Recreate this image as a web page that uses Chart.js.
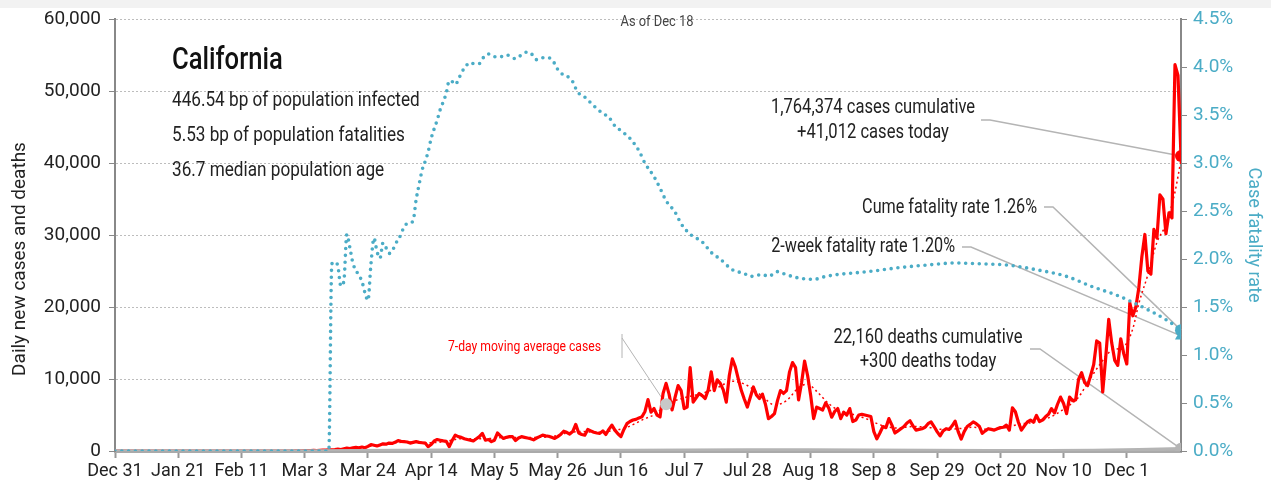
<!DOCTYPE html>
<html>
<head>
<meta charset="utf-8">
<script src="https://cdn.jsdelivr.net/npm/chart.js@4.4.1/dist/chart.umd.min.js"></script>
<style>
  html, body { margin: 0; padding: 0; background: #fff; }
  #wrap { position: absolute; left: 0; top: 0; width: 1271px; height: 493px;
          background: linear-gradient(#f2f2f2 0, #f2f2f2 8px, #fff 8px); }
</style>
</head>
<body>
<div id="wrap"><canvas id="chart" width="1271" height="493"></canvas></div>
<script>
/* ---- data (day 0 = Dec 31) ---- */
const tickDays   = [0, 21, 42, 63, 84, 105, 126, 147, 168, 189, 210, 231, 252, 273, 294, 315, 336];
const tickLabels = ['Dec 31', 'Jan 21', 'Feb 11', 'Mar 3', 'Mar 24', 'Apr 14', 'May 5', 'May 26', 'Jun 16',
                    'Jul 7', 'Jul 28', 'Aug 18', 'Sep 8', 'Sep 29', 'Oct 20', 'Nov 10', 'Dec 1'];

// daily new cases, one value per day
const dailyCases = [
  0,0,0,0,0,0,0,0,0,0, 0,0,0,0,0,0,0,0,0,0, 0,0,0,0,0,0,0,0,0,0,
  0,0,0,0,0,0,0,0,0,0, 0,0,0,0,0,0,0,0,0,0, 0,0,0,0,0,0,0,0,0,0,
  10,20,30,40,50,60,80,70,90,110,
  130,150,170,200,250,200,300,400,350,450,
  500,450,550,450,650,900,800,700,850,1000,
  950,1100,1050,1200,1450,1350,1300,1250,1100,1200,
  1300,1200,1150,1100,600,900,1400,1600,1500,1400,
  1350,600,1500,2200,2000,1900,1700,1600,1500,1400,
  1700,2000,2450,1500,1600,1300,1500,2500,2100,1750,
  1900,2000,2000,1450,1800,2000,1900,1800,1700,1550,
  1800,2000,2200,2100,2050,1900,1750,2000,2300,2750,
  2600,2350,2700,3700,2500,2300,2200,3000,2800,2600,
  2500,2450,2800,2300,3000,3600,2900,2400,2000,3000,
  3800,4100,4300,4400,4600,4750,5500,7150,5400,5900,
  5000,4750,8000,9400,7900,5700,7500,9100,8400,5900,
  6100,11600,6800,7400,8000,7700,7300,8500,11000,8400,
  9900,9400,8500,6800,10500,12800,11700,10000,8400,7200,
  6100,7500,8900,7800,7300,7900,6500,4500,4800,5200,
  7000,8400,8000,8400,11000,12300,11600,7100,9500,12500,
  10500,7800,4500,6100,5900,5700,6700,6000,4700,5500,
  5900,4500,5400,5000,5900,4100,4300,5000,5100,5000,
  4900,4800,2700,1700,2500,3400,3250,4500,3600,2500,
  2800,3100,3400,3900,4200,3500,2900,3000,3100,3300,
  3800,4050,3400,2700,2100,2800,3100,3000,3500,4150,
  2700,1650,2700,3400,3700,4050,3800,3450,2450,2800,
  3100,3000,2900,3100,3250,3300,3600,2900,6000,5450,
  4000,2900,3500,4050,4300,4000,4950,4100,4300,4750,
  5100,5900,5300,6500,7500,6600,5200,7500,7000,7100,
  10000,10900,9500,9100,10500,12000,15300,15000,8200,13000,
  18300,15000,12600,11900,15600,13500,12100,20600,18800,20000,
  22700,27000,30100,25000,24600,30800,29600,35600,35000,30200,
  33100,32400,53700,52200,41000
];

// 7-day moving average of cases
const avgDays   = [0, 70, 75, 80, 85, 90, 95, 100, 105, 110, 115, 120, 125, 130, 135, 140, 145, 150, 155, 160,
                   165, 170, 175, 180, 183, 186, 190, 195, 200, 205, 210, 215, 219, 223, 227, 230, 233, 237, 241, 245,
                   250, 255, 260, 265, 270, 275, 280, 285, 290, 295, 300, 305, 310, 315, 320, 323, 327, 331, 335, 338,
                   340, 343, 346, 349, 352, 354];
const avgCases  = [0, 50, 150, 350, 700, 1000, 1200, 1200, 1150, 1350, 1700, 1700, 1750, 1900, 1850, 1900, 2000, 2500, 2700, 2600,
                   2800, 3300, 4300, 5300, 6500, 7000, 7500, 8000, 8800, 9700, 9100, 7600, 6400, 7000, 8800, 9300, 8300, 6600, 5500, 5100,
                   4400, 3500, 3200, 3400, 3300, 3000, 3100, 3300, 3000, 3200, 3700, 4000, 4600, 5800, 7500, 9500, 12000, 14000, 14500, 17000,
                   20500, 24500, 29000, 31500, 36000, 40500];

// daily deaths (tiny on this scale)
const deathDays   = [0, 65, 80, 95, 110, 130, 150, 170, 190, 210, 230, 250, 270, 290, 310, 325, 340, 354];
const dailyDeaths = [0, 0, 20, 80, 90, 80, 70, 60, 90, 130, 140, 100, 80, 50, 50, 80, 170, 300];

// case fatality rate, %
const cfrDays  = [0, 71, 72, 73, 74, 75, 76, 77, 78, 79, 81, 82, 83, 84, 85, 86, 87, 88, 89, 90,
                  91, 92, 93, 95, 96, 98, 99, 100, 101, 102, 103, 104, 105, 106, 107, 108, 109, 110, 111, 112,
                  113, 114, 115, 116, 118, 119, 121, 122, 124, 126, 128, 130, 131, 133, 135, 137, 139, 140, 142, 144,
                  146, 147, 149, 150, 152, 153, 154, 156, 158, 160, 162, 164, 166, 168, 171, 174, 176, 179, 181, 183,
                  186, 188, 191, 195, 198, 201, 205, 209, 211, 215, 217, 220, 222, 226, 232, 236, 240, 250, 260, 270,
                  279, 289, 296, 306, 316, 324, 333, 338, 345, 350, 354];
const cfrRates = [0, 0, 1.95, 1.97, 1.93, 1.72, 1.77, 2.26, 2.12, 1.96, 1.83, 1.77, 1.65, 1.57, 1.95, 2.22, 2.08, 2.01, 2.17, 2.12,
                  2.06, 2.08, 2.15, 2.26, 2.34, 2.38, 2.40, 2.62, 2.78, 2.93, 3.02, 3.12, 3.26, 3.36, 3.45, 3.56, 3.64, 3.73, 3.86, 3.85,
                  3.82, 3.87, 3.94, 3.99, 4.05, 4.04, 4.04, 4.09, 4.14, 4.11, 4.11, 4.13, 4.12, 4.09, 4.13, 4.16, 4.12, 4.08, 4.10, 4.10,
                  4.04, 3.98, 3.92, 3.91, 3.85, 3.78, 3.73, 3.69, 3.63, 3.57, 3.52, 3.48, 3.39, 3.34, 3.26, 3.13, 3.00, 2.86, 2.74, 2.61,
                  2.49, 2.37, 2.26, 2.18, 2.07, 2.00, 1.89, 1.85, 1.82, 1.84, 1.82, 1.87, 1.85, 1.81, 1.79, 1.82, 1.84, 1.87, 1.91, 1.94,
                  1.96, 1.95, 1.94, 1.89, 1.82, 1.72, 1.62, 1.55, 1.44, 1.35, 1.26];
const twoWeekRate = 1.20;

const infoLines = ['446.54 bp of population infected', '5.53 bp of population fatalities', '36.7 median population age'];

/* ---- styling ---- */
const FONT = "Roboto, 'Liberation Sans', sans-serif";
const RED  = '#ff0000';
const BLUE = '#4bacc6';
const GREY = '#b4b4b4';
const INK  = '#222';
Chart.defaults.font.family = FONT;

const lastDay = dailyCases.length - 1;
const xy = (xs, ys) => ys.map((v, i) => ({ x: xs[i], y: v }));
const onLast = (r) => (c) => c.dataIndex === c.dataset.data.length - 1 ? r : 0;

/** text squeezed horizontally by k, to look like the condensed face of the original */
function put(ctx, str, x, y, size, color, align, k, rot, weight) {
  ctx.save();
  ctx.translate(x, y);
  if (rot) ctx.rotate(rot);
  ctx.scale(k || 1, 1);
  ctx.font = (weight || 400) + ' ' + size + 'px ' + FONT;
  ctx.fillStyle = color;
  ctx.textAlign = align;
  ctx.textBaseline = 'middle';
  ctx.fillText(str, 0, 0);
  ctx.restore();
}

function leader(ctx, pts, w) {
  ctx.beginPath();
  ctx.moveTo(pts[0][0], pts[0][1]);
  pts.slice(1).forEach(p => ctx.lineTo(p[0], p[1]));
  ctx.lineWidth = w || 1.5;
  ctx.strokeStyle = GREY;
  ctx.stroke();
}

/** leader lines under the marks, labels on top */
const notes = {
  id: 'notes',
  beforeDatasetsDraw(chart) {
    const { ctx, scales: { x, y, y1 } } = chart;
    const ex = x.getPixelForValue(lastDay);
    ctx.save();
    leader(ctx, [[981, 120], [990, 120], [ex, y.getPixelForValue(dailyCases[lastDay])]]);
    leader(ctx, [[1044, 207], [1053, 207], [ex, y1.getPixelForValue(cfrRates[cfrRates.length - 1])]]);
    leader(ctx, [[962, 247], [971, 247], [ex, y1.getPixelForValue(twoWeekRate)]]);
    leader(ctx, [[1030, 349], [1040, 349], [ex, y.getPixelForValue(dailyDeaths[dailyDeaths.length - 1])]]);
    // moving-average callout
    const k = avgDays.indexOf(183);
    const mx = x.getPixelForValue(avgDays[k]), my = y.getPixelForValue(avgCases[k]);
    leader(ctx, [[622, 334], [622, 358]], 1);
    leader(ctx, [[622, 338], [mx, my]], 1);
    ctx.restore();
  },
  afterDatasetsDraw(chart) {
    const { ctx, scales: { x, y } } = chart;
    ctx.save();
    const k = avgDays.indexOf(183);
    ctx.beginPath();
    ctx.arc(x.getPixelForValue(avgDays[k]), y.getPixelForValue(avgCases[k]), 6, 0, Math.PI * 2);
    ctx.fillStyle = '#c8c8c8';
    ctx.fill();

    put(ctx, 'As of Dec 18', 657, 22, 14, '#444', 'center', 0.92);
    put(ctx, 'California', 172, 61, 32, '#111', 'left', 0.8, 0, 500);
    infoLines.forEach((t, i) => put(ctx, t, 172, 101 + i * 35, 19.5, INK, 'left', 0.88));

    put(ctx, '1,764,374 cases cumulative', 873, 108, 19.5, INK, 'center', 0.85);
    put(ctx, '+41,012 cases today', 873, 133, 19.5, INK, 'center', 0.85);
    put(ctx, 'Cume fatality rate 1.26%', 1037, 208, 19.5, INK, 'right', 0.83);
    put(ctx, '2-week fatality rate 1.20%', 955, 247, 19.5, INK, 'right', 0.83);
    put(ctx, '22,160 deaths cumulative', 928, 338, 19.5, INK, 'center', 0.85);
    put(ctx, '+300 deaths today', 928, 362, 19.5, INK, 'center', 0.85);
    put(ctx, '7-day moving average cases', 601, 347, 14.5, RED, 'right', 0.84);

    put(ctx, 'Daily new cases and deaths', 20, 259, 19, INK, 'center', 1, -Math.PI / 2);
    put(ctx, 'Case fatality rate', 1253, 235, 18, BLUE, 'center', 1, Math.PI / 2);
    ctx.restore();
  }
};

new Chart(document.getElementById('chart'), {
  type: 'line',
  data: {
    datasets: [
      { label: 'Two-week rate', data: [{ x: lastDay, y: twoWeekRate }], yAxisID: 'y1', order: 1,
        showLine: false, pointStyle: 'triangle', pointRadius: 7,
        pointBackgroundColor: BLUE, pointBorderWidth: 0 },
      { label: 'Case fatality rate', data: xy(cfrDays, cfrRates), yAxisID: 'y1', order: 2,
        borderColor: BLUE, borderWidth: 3.6, borderDash: [0, 6.8], borderCapStyle: 'round',
        cubicInterpolationMode: 'monotone',
        pointRadius: onLast(6), pointBackgroundColor: BLUE, pointBorderWidth: 0 },
      { label: 'Deaths', data: xy(deathDays, dailyDeaths), yAxisID: 'y', order: 3,
        borderColor: GREY, borderWidth: 3.5, tension: 0,
        pointRadius: onLast(6), pointBackgroundColor: GREY, pointBorderWidth: 0 },
      { label: 'Cases', data: dailyCases.map((v, i) => ({ x: i, y: v })), yAxisID: 'y', order: 4,
        borderColor: RED, borderWidth: 3.2, borderJoinStyle: 'round', tension: 0,
        pointRadius: onLast(6), pointBackgroundColor: RED, pointBorderWidth: 0 },
      { label: '7-day average', data: xy(avgDays, avgCases), yAxisID: 'y', order: 5,
        borderColor: RED, borderWidth: 1.5, borderDash: [2, 3], cubicInterpolationMode: 'monotone',
        pointRadius: 0 }
    ]
  },
  options: {
    responsive: false,
    animation: false,
    layout: { padding: { top: 17 } },
    plugins: { legend: { display: false }, tooltip: { enabled: false } },
    scales: {
      x: {
        type: 'linear', min: 0, max: lastDay,
        afterBuildTicks: s => { s.ticks = tickDays.map(v => ({ value: v })); },
        afterFit: s => { s.height = 42; },
        ticks: { callback: (v, i) => tickLabels[i], color: INK, font: { size: 18 },
                 maxRotation: 0, autoSkip: false, padding: 3 },
        grid: { drawOnChartArea: false, drawTicks: true, tickLength: 7, tickColor: '#999', tickWidth: 2 },
        border: { color: '#aaa', width: 3 }
      },
      y: {
        position: 'left', min: 0, max: 60000,
        afterFit: s => { s.width = 115; },
        ticks: { stepSize: 10000, callback: v => v.toLocaleString('en-US'), color: INK,
                 font: { size: 19 }, padding: 8 },
        grid: { color: '#bdbdbd', lineWidth: 1, tickLength: 6, tickColor: '#888', tickBorderDash: [] },
        border: { dash: [2, 2], color: '#888', width: 2 }
      },
      y1: {
        position: 'right', min: 0, max: 4.5,
        afterFit: s => { s.width = 90; },
        ticks: { stepSize: 0.5, callback: v => v.toFixed(1) + '%', color: BLUE, font: { size: 19 }, padding: 6 },
        grid: { drawOnChartArea: false, tickLength: 6, tickColor: '#888' },
        border: { color: '#888', width: 2 }
      }
    }
  },
  plugins: [notes]
});
</script>
</body>
</html>
